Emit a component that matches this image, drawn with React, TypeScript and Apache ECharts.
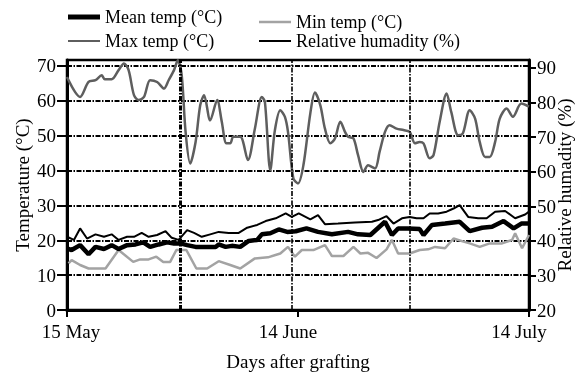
import React, { useEffect, useRef } from "react";
import * as echarts from "echarts";

// x positions are days after 15 May
const xTickDays = [0, 30, 60];
const xTickLabels = ["15 May", "14 June", "14 July"];
const vGridDays = [14.7, 29.2, 44.5];

const seriesNames = ["Mean temp (°C)", "Max temp (°C)", "Min temp (°C)", "Relative humadity (%)"];

const meanTemp: [number, number][] = [
  [0, 17.7], [0.6, 17.2], [1.7, 18.6], [2.8, 16.0], [3.7, 18.1], [4.8, 17.5], [5.8, 18.6], [6.7, 17.5],
  [7.8, 18.6], [8.9, 18.8], [9.9, 19.4], [10.8, 18.1], [11.9, 18.8], [13.0, 19.4], [13.9, 19.1], [14.7, 19.1],
  [15.6, 18.6], [16.7, 18.1], [18.0, 18.1], [19.3, 18.1], [19.7, 18.8], [20.6, 18.1], [21.4, 18.4], [22.5, 18.1],
  [23.6, 19.8], [24.7, 20.1], [25.3, 21.7], [26.4, 22.0], [27.5, 23.1], [28.6, 22.4], [29.7, 22.6], [31.1, 23.4],
  [32.6, 22.4], [34.4, 21.7], [36.5, 22.4], [37.8, 21.7], [39.4, 21.5], [41.3, 25.3], [42.2, 21.5], [43.0, 23.4],
  [44.3, 23.4], [45.8, 23.2], [46.3, 21.5], [47.4, 24.4], [49.1, 24.8], [51.0, 25.3], [52.3, 22.6], [53.9, 23.6],
  [55.2, 23.9], [56.7, 25.5], [58.0, 23.4], [59.0, 24.8], [60, 24.8],
];

const maxTemp: [number, number][] = [
  [0, 66.8], [1.7, 61.1], [2.8, 65.4], [3.7, 65.9], [4.5, 67.3], [4.9, 66.2], [5.8, 66.2], [6.7, 68.8],
  [7.4, 70.7], [8.0, 68.8], [8.7, 61.6], [9.3, 60.2], [10.0, 61.1], [10.8, 65.9], [11.7, 65.4], [12.6, 63.5],
  [13.2, 65.9], [13.9, 68.8], [14.4, 71.6], [14.9, 67.3], [15.4, 51.1], [16.0, 42.0], [16.7, 48.2], [17.3, 58.7],
  [17.8, 61.6], [18.6, 54.4], [19.5, 60.2], [20.1, 54.0], [20.7, 47.8], [21.2, 47.8], [21.6, 49.7], [22.5, 49.7],
  [23.5, 43.0], [24.4, 52.0], [25.3, 61.1], [25.7, 59.7], [26.4, 40.1], [27.0, 51.6], [27.7, 57.3], [28.3, 55.4],
  [28.7, 51.1], [29.4, 37.7], [30.0, 36.3], [30.7, 41.5], [31.6, 56.4], [32.2, 62.4], [32.9, 58.7], [33.5, 52.0],
  [34.2, 47.8], [34.8, 49.2], [35.5, 54.0], [36.1, 51.1], [36.5, 49.7], [37.2, 49.2], [37.8, 44.4], [38.5, 39.6],
  [39.1, 41.5], [40.0, 40.6], [40.6, 45.4], [41.3, 51.1], [41.9, 53.0], [42.8, 52.0], [43.7, 51.6], [44.5, 51.1],
  [45.2, 47.8], [45.8, 48.2], [46.3, 47.8], [47.1, 43.5], [47.6, 44.4], [48.4, 54.0], [49.3, 62.1], [49.9, 56.8],
  [50.8, 50.1], [51.4, 50.6], [52.3, 57.3], [53.0, 54.9], [53.6, 48.2], [54.3, 43.9], [54.9, 43.9], [55.6, 48.2],
  [56.2, 54.9], [57.1, 57.8], [57.9, 55.4], [59.0, 59.2], [60, 58.3],
];

const minTemp: [number, number][] = [
  [0.2, 13.4], [0.6, 14.3], [1.7, 12.9], [2.8, 11.9], [3.9, 11.9], [5.0, 11.9], [6.7, 17.2], [8.6, 13.8],
  [9.5, 14.5], [10.6, 14.5], [11.6, 15.3], [12.5, 13.8], [13.4, 13.8], [14.2, 17.2], [15.5, 17.2], [16.8, 11.9],
  [18.2, 11.9], [19.7, 14.0], [21.2, 12.9], [22.5, 11.9], [24.4, 14.8], [26.1, 15.1], [27.7, 16.2], [28.7, 18.1],
  [29.6, 15.3], [30.5, 17.2], [32.0, 17.2], [33.5, 18.6], [34.4, 15.5], [35.9, 15.5], [37.2, 18.1], [38.1, 16.2],
  [39.1, 16.4], [40.2, 14.9], [41.5, 17.4], [42.2, 20.1], [43.0, 16.2], [44.5, 16.2], [45.8, 17.2], [46.9, 17.4],
  [47.8, 18.1], [49.1, 17.7], [50.2, 20.5], [51.5, 19.6], [52.3, 19.1], [53.6, 18.1], [54.9, 19.1], [56.5, 19.1],
  [57.8, 20.1], [58.2, 22.0], [59.1, 17.7], [60, 21.5],
];

const relHumidity: [number, number][] = [
  [0, 21.0], [0.9, 20.1], [1.7, 23.4], [2.6, 20.5], [3.7, 21.7], [4.8, 21.0], [5.8, 21.7], [6.7, 20.1],
  [7.8, 21.0], [8.7, 21.0], [9.7, 22.1], [10.6, 21.0], [11.7, 21.5], [12.8, 22.6], [13.6, 20.7], [14.5, 20.1],
  [15.6, 22.9], [16.5, 22.1], [17.5, 21.0], [18.6, 21.7], [19.7, 22.4], [21.0, 22.1], [22.3, 22.1], [23.4, 23.6],
  [24.7, 24.4], [25.8, 25.5], [27.1, 26.3], [28.4, 27.7], [29.2, 26.7], [30.1, 27.7], [31.6, 26.0], [32.6, 27.2],
  [33.5, 24.6], [35.2, 24.8], [37.4, 25.1], [39.6, 25.3], [40.4, 25.8], [41.5, 26.9], [42.4, 24.8], [43.5, 26.3],
  [44.5, 26.7], [45.4, 26.3], [46.3, 26.3], [47.1, 27.7], [48.2, 27.7], [49.3, 28.2], [50.2, 29.1], [51.0, 30.1],
  [52.1, 26.7], [53.4, 26.3], [54.5, 26.3], [55.6, 28.2], [56.9, 28.4], [58.2, 26.3], [59.5, 27.4], [60, 28.2],
];

const FONT = "Liberation Serif";

export default function App() {
  const ref = useRef<HTMLDivElement>(null);
  useEffect(() => {
    if (!ref.current) return;
    const chart = echarts.init(ref.current, undefined, { renderer: "svg" });
    const dash = [5, 1.5, 1.5, 1.5];
    const legendText = { fontFamily: FONT, fontSize: 18, color: "#000" };
    chart.setOption({
      animation: false,
      grid: {
        left: 67, right: 47, top: 60, bottom: 62, show: true, borderColor: "#000", borderWidth: 2.5,
        containLabel: false, outerBoundsMode: "none",
      },
      legend: [
        { data: [seriesNames[0]], left: 68, top: 8, padding: 0, itemWidth: 32, itemHeight: 5, icon: "rect", selectedMode: false, textStyle: legendText },
        { data: [seriesNames[1]], left: 68, top: 32, padding: 0, itemWidth: 32, itemHeight: 2, icon: "rect", selectedMode: false, textStyle: legendText },
        { data: [seriesNames[2]], left: 259, top: 13, padding: 0, itemWidth: 32, itemHeight: 2.5, icon: "rect", selectedMode: false, textStyle: legendText },
        { data: [seriesNames[3]], left: 259, top: 32, padding: 0, itemWidth: 32, itemHeight: 2, icon: "rect", selectedMode: false, textStyle: legendText },
      ],
      xAxis: {
        type: "value",
        min: 0,
        max: 60,
        interval: 30,
        name: "Days after grafting",
        nameLocation: "middle",
        nameGap: 42,
        nameMoveOverlap: false,
        nameTextStyle: { fontFamily: FONT, fontSize: 19, color: "#000" },
        axisLine: { lineStyle: { color: "#000", width: 3 } },
        axisTick: { show: true, length: 7, lineStyle: { color: "#000", width: 2 } },
        splitLine: { show: false },
        axisLabel: {
          margin: 12,
          fontFamily: FONT,
          fontSize: 19,
          color: "#000",
          formatter: (v: number) => {
            const i = xTickDays.indexOf(v);
            if (i < 0) return "";
            return i === 0 ? `{first|${xTickLabels[i]}}` : `{rest|${xTickLabels[i]}}`;
          },
          rich: {
            first: { fontFamily: FONT, fontSize: 19, color: "#000", padding: [0, 0, 0, 8] },
            rest: { fontFamily: FONT, fontSize: 19, color: "#000", padding: [0, 20, 0, 0] },
          },
        },
      },
      yAxis: [
        {
          type: "value",
          min: 0,
          max: 71.7,
          interval: 10,
          position: "left",
          name: "Temperature (°C)",
          nameLocation: "middle",
          nameRotate: 90,
          nameGap: 35,
          nameMoveOverlap: false,
          nameTextStyle: { fontFamily: FONT, fontSize: 19, color: "#000" },
          axisLine: { show: true, lineStyle: { color: "#000", width: 3 } },
          axisTick: { show: true, length: 10, lineStyle: { color: "#000", width: 2 } },
          axisLabel: { showMaxLabel: false, margin: 11, fontFamily: FONT, fontSize: 19, color: "#000" },
          splitLine: { show: true, lineStyle: { color: "#000", width: 2, type: dash } },
        },
        {
          type: "value",
          min: 20,
          max: 92.3,
          interval: 10,
          position: "right",
          name: "Relative humadity (%)",
          nameLocation: "middle",
          nameRotate: 90,
          nameGap: 26,
          nameMoveOverlap: false,
          nameTextStyle: { fontFamily: FONT, fontSize: 19, color: "#000" },
          axisLine: { show: true, lineStyle: { color: "#000", width: 3 } },
          axisTick: { show: true, length: 7, lineStyle: { color: "#000", width: 2 } },
          axisLabel: { showMaxLabel: false, margin: 8, fontFamily: FONT, fontSize: 19, color: "#000" },
          splitLine: { show: false },
        },
      ],
      series: [
        {
          name: seriesNames[1],
          type: "line",
          data: maxTemp,
          smooth: 0.3,
          symbol: "none",
          color: "#5e5e5e",
          lineStyle: { width: 2.5, color: "#5e5e5e" },
          z: 2,
          markLine: {
            silent: true,
            symbol: "none",
            label: { show: false },
            data: vGridDays.map((d, i) => ({
              xAxis: d,
              lineStyle: { color: "#000", width: i === 0 ? 3 : 1.6, type: dash },
            })),
          },
        },
        {
          name: seriesNames[3],
          type: "line",
          data: relHumidity,
          symbol: "none",
          color: "#000",
          lineStyle: { width: 2, color: "#000" },
          z: 3,
        },
        {
          name: seriesNames[2],
          type: "line",
          data: minTemp,
          symbol: "none",
          color: "#a3a3a3",
          lineStyle: { width: 2.5, color: "#a3a3a3" },
          z: 3,
        },
        {
          name: seriesNames[0],
          type: "line",
          data: meanTemp,
          symbol: "none",
          color: "#000",
          lineStyle: { width: 4.5, color: "#000" },
          z: 4,
        },
      ],
    });
    return () => chart.dispose();
  }, []);
  return <div ref={ref} style={{ position: "fixed", left: 0, top: 0, width: 576, height: 372 }} />;
}
